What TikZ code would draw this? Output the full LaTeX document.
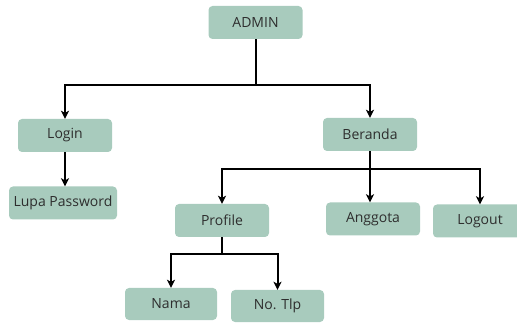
\documentclass[tikz,border=0pt]{standalone}
\usepackage{fontspec}
\setmainfont{Open Sans}
\usetikzlibrary{arrows.meta}
\definecolor{boxfill}{HTML}{A8CBBD}
\definecolor{txt}{HTML}{2E2E2E}
\tikzset{
  box/.style={draw=none, fill=boxfill, rounded corners=4pt, minimum width=94pt, minimum height=33pt, inner sep=0pt, text=txt, font=\fontsize{14}{16}\selectfont},
  arr/.style={line width=2pt, -{Stealth[length=8pt,width=8pt,inset=2pt]}},
  ln/.style={line width=2pt}
}
\begin{document}
\begin{tikzpicture}[x=1pt,y=-1pt]
\useasboundingbox (0,0) rectangle (517,323);
\node[box] (admin) at (255.5,22.5) {ADMIN};
\node[box] (login) at (65,135.5) {Login};
\node[box] (beranda) at (370,134.5) {Beranda};
\node[box, minimum width=108pt] (lupa) at (63,203) {Lupa Password};
\node[box] (profile) at (222,220.5) {Profile};
\node[box] (anggota) at (373,219) {Anggota};
\node[box] (logout) at (480,221) {Logout};
\node[box, minimum width=92pt, minimum height=32pt] (nama) at (171,304) {Nama};
\node[box, minimum width=93pt, minimum height=32pt] (tlp) at (277.5,306) {No. Tlp};
\coordinate (j1) at (255.5,85);
\coordinate (j2) at (370,169);
\coordinate (j3) at (222,254);
\draw[ln] (admin.south) -- (j1);
\draw[arr] (j1) -| (login.north);
\draw[arr] (j1) -| (beranda.north);
\draw[arr] (login.south) -- (login.south |- lupa.north);
\draw[ln] (beranda.south) -- (j2);
\draw[arr] (j2) -| (profile.north);
\draw[arr] (j2) -- (j2 |- anggota.north);
\draw[arr] (j2) -| (logout.north);
\draw[ln] (profile.south) -- (j3);
\draw[arr] (j3) -| (nama.north);
\draw[arr] (j3) -| (tlp.north);
\end{tikzpicture}
\end{document}
